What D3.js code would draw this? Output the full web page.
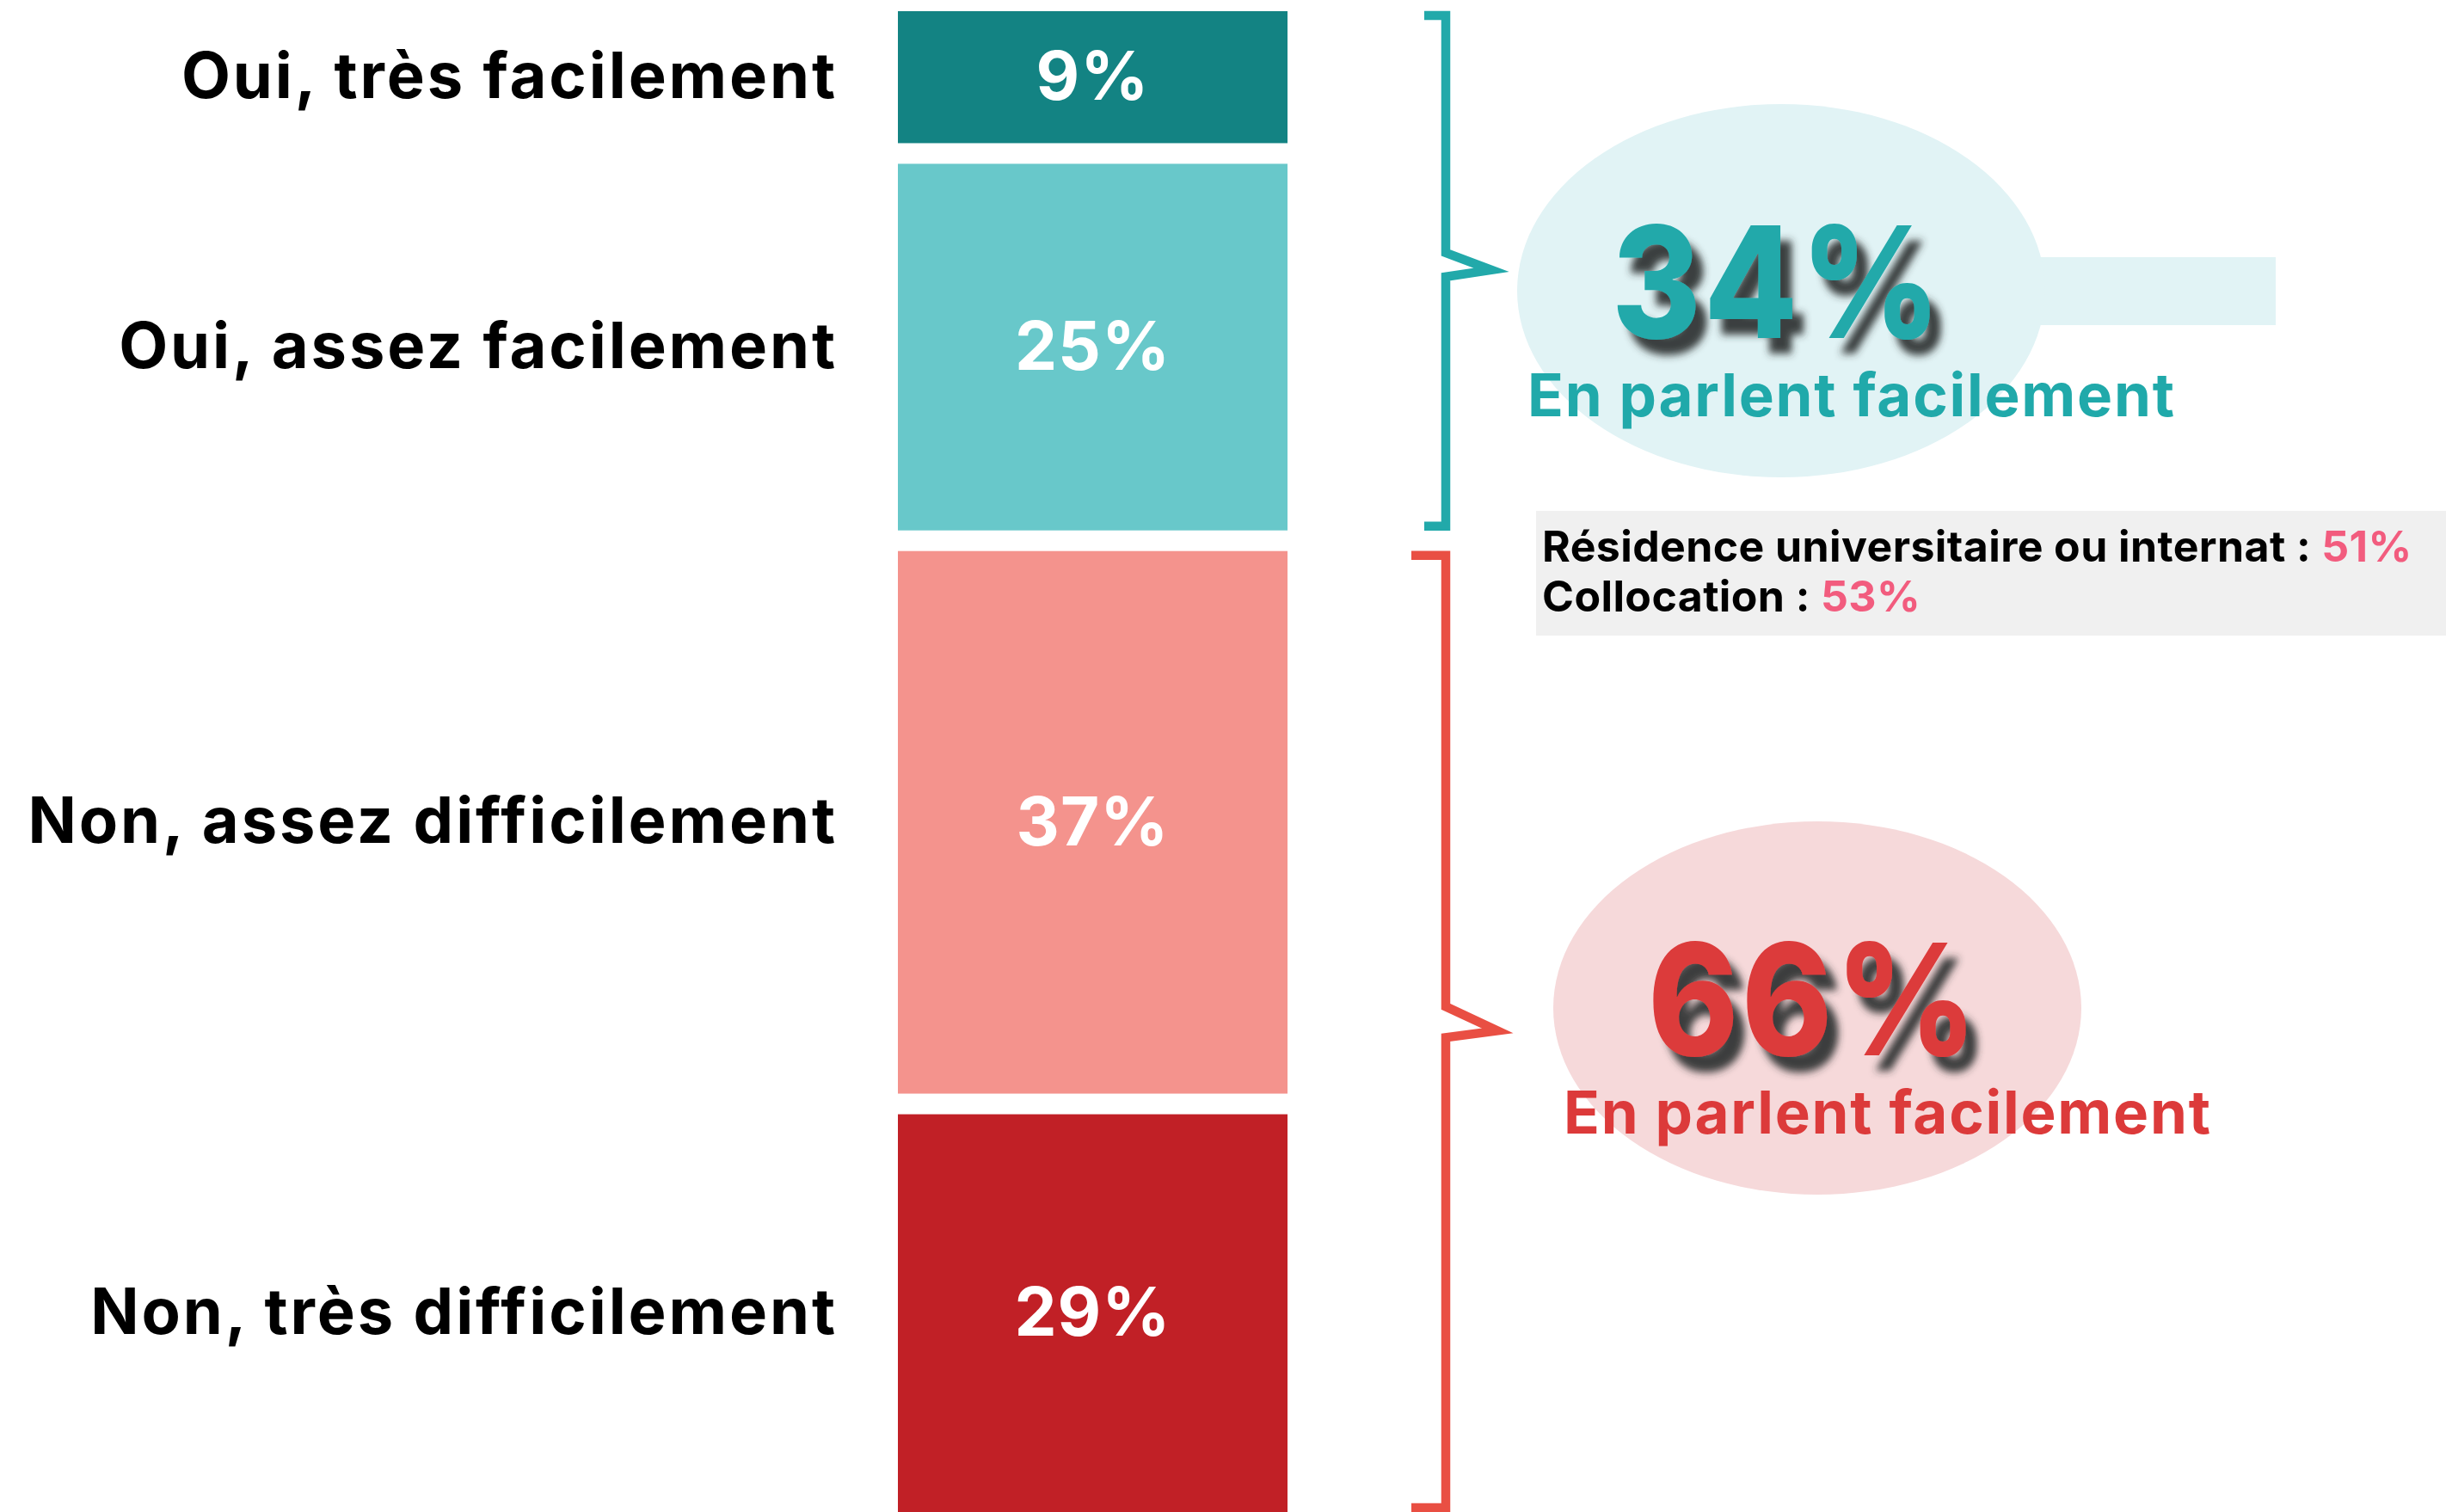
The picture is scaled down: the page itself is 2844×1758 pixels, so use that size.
<!DOCTYPE html>
<html>
<head>
<meta charset="utf-8">
<script src="https://cdn.jsdelivr.net/npm/d3@7"></script>
<style>
  html, body { margin: 0; padding: 0; background: #ffffff; }
  svg { display: block; }
  text { font-family: Inter, "Noto Sans", sans-serif; }
</style>
</head>
<body>
<svg id="chart" width="2844" height="1758"></svg>
<script>
// ---------------- DATA ----------------
const categories = ["Oui, très facilement", "Oui, assez facilement", "Non, assez difficilement", "Non, très difficilement"];
const values = [9, 25, 37, 29];
const barColors = ["#138383", "#68C8CA", "#F4938D", "#C12026"];

const groupTotals = [34, 66];
const groupMembers = [[0, 1], [2, 3]];
const groupSubtitles = ["En parlent facilement", "En parlent facilement"];
const groupColors = ["#20A9AA", "#DC3A3A"];
const groupBraceColors = ["#22A9AA", "#E94F43"];
const groupBubbleColors = ["#E1F3F5", "#F6D9DA"];

const noteLabels = ["Résidence universitaire ou internat : ", "Collocation : "];
const noteValues = [51, 53];

// ---------------- LAYOUT ----------------
const W = 2844, H = 1758;
const svg = d3.select("#chart");
const fmt = v => v + "%";

const barLeft = 1044, barRight = 1497;
const top0 = 13, gap = 24;
const y = d3.scaleLinear().domain([0, 100]).range([0, 1705]);

const cum = d3.cumsum([0].concat(values)).slice(0, values.length);
const bars = values.map((v, i) => {
  const t = top0 + y(cum[i]) + gap * i;
  const b = t + y(v);
  return { i, v, top: t, bottom: b, mid: (t + Math.min(b, H)) / 2 };
});

// shadow filter
const defs = svg.append("defs");
const f = defs.append("filter").attr("id", "shadow")
  .attr("x", "-20%").attr("y", "-20%").attr("width", "150%").attr("height", "150%");
f.append("feDropShadow").attr("dx", 15).attr("dy", 18).attr("stdDeviation", 5)
  .attr("flood-color", "#2a3232").attr("flood-opacity", 0.92);

function fitSpacing(sel, target) {
  sel.each(function () {
    const node = this;
    node.style.letterSpacing = "0px";
    const len = node.getComputedTextLength();
    const n = node.textContent.length;
    const s = (target - len) / Math.max(1, n - 1);
    node.style.letterSpacing = s + "px";
  });
}

// bars
svg.append("g").selectAll("rect").data(bars).join("rect")
  .attr("x", barLeft).attr("width", barRight - barLeft)
  .attr("y", d => d.top).attr("height", d => d.bottom - d.top)
  .attr("fill", d => barColors[d.i]);

// value labels
const capV = 57;
svg.append("g").selectAll("text").data(bars).join("text")
  .attr("x", (barLeft + barRight) / 2)
  .attr("y", d => d.mid + capV / 2 - 2)
  .attr("text-anchor", "middle")
  .attr("fill", "#ffffff")
  .attr("font-weight", 700)
  .attr("font-size", 78)
  .style("letter-spacing", "1px")
  .text(d => fmt(d.v));

// category labels
const capC = 54;
svg.append("g").selectAll("text").data(bars).join("text")
  .attr("x", 974)
  .attr("y", d => d.mid + capC / 2 - 3)
  .attr("text-anchor", "end")
  .attr("fill", "#000000")
  .attr("font-weight", 700)
  .attr("font-size", 74)
  .style("letter-spacing", "2.9px")
  .text(d => categories[d.i]);

// braces + annotations
const braceX = 1681;
const bubble = [{ cx: 2071, cy: 338 }, { cx: 2113, cy: 1172 }];
const serifLen = [25, 40];
const tipLen = [53, 60];

groupMembers.forEach((m, g) => {
  const gTop = bars[m[0]].top;
  const gBot = Math.min(bars[m[m.length - 1]].bottom, H);
  const sTop = gTop + 5, sBot = gBot - 5;
  const tipY = (gTop + gBot) / 2 - 1;
  const p = d3.path();
  p.moveTo(braceX - serifLen[g], sTop);
  p.lineTo(braceX, sTop);
  p.lineTo(braceX, tipY - 20 - g * 8);
  p.lineTo(braceX + tipLen[g], tipY);
  p.lineTo(braceX, tipY + 8);
  p.lineTo(braceX, sBot);
  p.lineTo(braceX - serifLen[g], sBot);
  svg.append("path").attr("d", p.toString())
    .attr("fill", "none").attr("stroke", groupBraceColors[g])
    .attr("stroke-width", 10.5).attr("stroke-linejoin", "miter").attr("stroke-miterlimit", 10);

  const b = bubble[g];
  if (g === 0) {
    svg.append("rect").attr("x", b.cx + 290).attr("y", b.cy - 39)
      .attr("width", 2646 - (b.cx + 290)).attr("height", 79)
      .attr("fill", groupBubbleColors[g]);
  }
  svg.append("ellipse").attr("cx", b.cx).attr("cy", b.cy)
    .attr("rx", 307).attr("ry", 217).attr("fill", groupBubbleColors[g]);

  // big group total: horizontally fitted to the reference width
  const bx = b.cx - 197, by = b.cy + 55;
  const big = svg.append("text")
    .attr("x", 0).attr("y", 0)
    .attr("fill", groupColors[g])
    .attr("font-weight", 800)
    .attr("font-size", 180)
    .style("letter-spacing", "4px")
    .attr("filter", "url(#shadow)")
    .text(fmt(groupTotals[g]));
  const len = big.node().getComputedTextLength();
  big.attr("transform", `translate(${bx},${by}) scale(${386 / len},1)`);

  const sub = svg.append("text")
    .attr("x", b.cx - 295).attr("y", b.cy + 146)
    .attr("fill", groupColors[g])
    .attr("font-weight", 700)
    .attr("font-size", 69)
    .text(groupSubtitles[g]);
  fitSpacing(sub, 752);
});

// note box
svg.append("rect").attr("x", 1786).attr("y", 594)
  .attr("width", W - 1786).attr("height", 145).attr("fill", "#F0F0F0");
const noteY = [653, 711];
noteLabels.forEach((lab, i) => {
  const t = svg.append("text").attr("x", 1793).attr("y", noteY[i])
    .attr("font-weight", 700).attr("font-size", 50).attr("fill", "#000000");
  t.append("tspan").text(lab);
  t.append("tspan").attr("fill", "#F25C7E").text(fmt(noteValues[i]));
  t.style("letter-spacing", "0.4px");
});
</script>
</body>
</html>
